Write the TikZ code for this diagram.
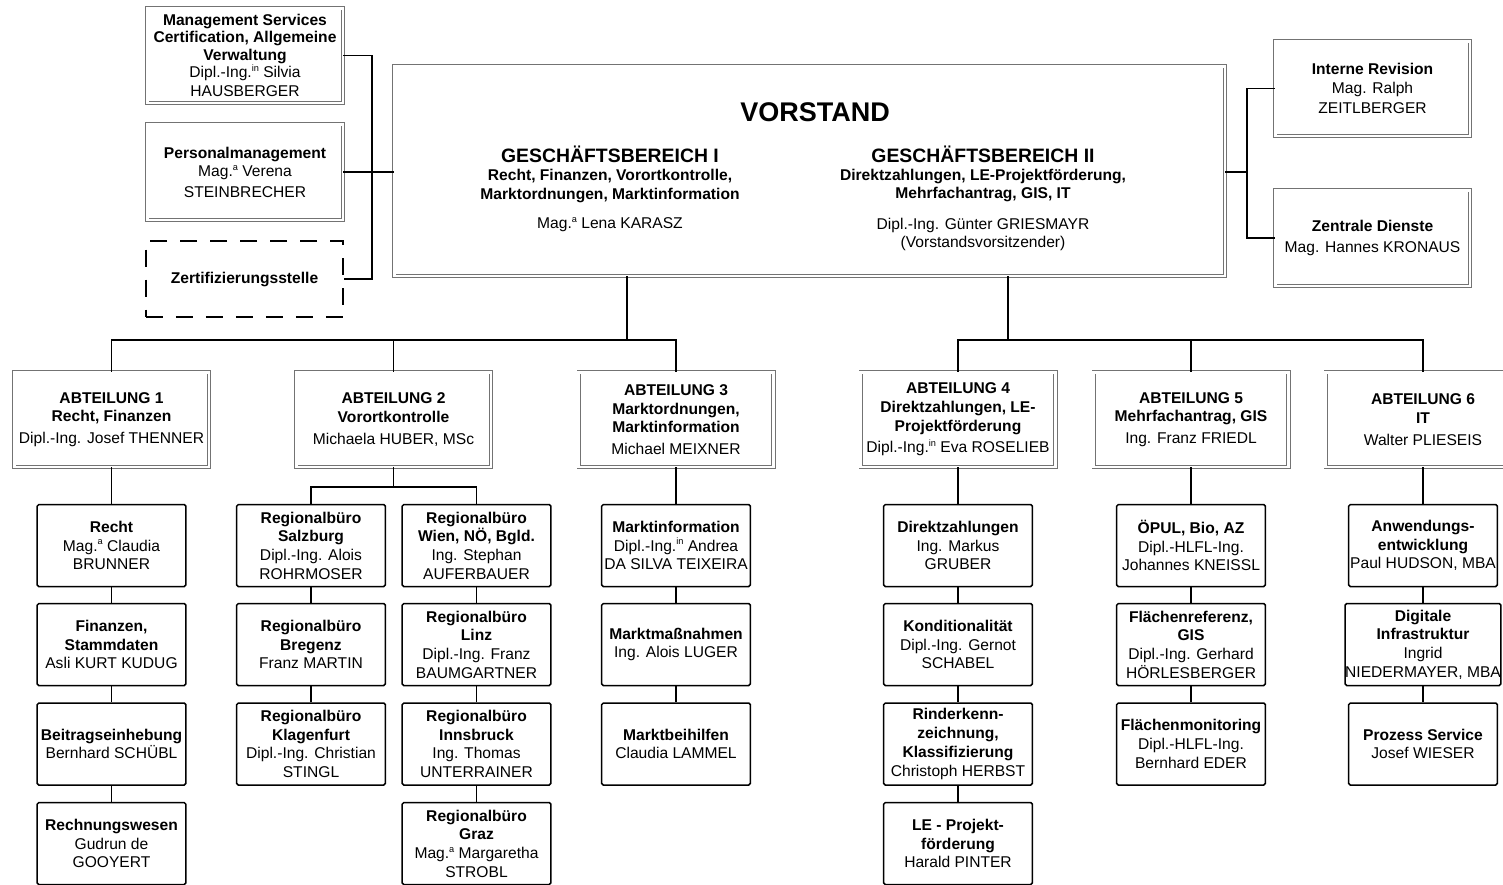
\documentclass[tikz,border=0pt]{standalone}
\usepackage{fontspec}
\setmainfont{Liberation Sans}
\newcommand\orgfont{\fontsize{7.8}{9.35}\selectfont}
\newcommand\supx[1]{\raisebox{0.75ex}{\fontsize{4.6}{5}\selectfont #1}}
\begin{document}
\begin{tikzpicture}[x=0.5pt,y=-0.5pt,
  dbl/.style={draw=black!55, line width=0.45pt, double=white, double distance=1.3pt,
    inner sep=0pt, align=center, font=\orgfont},
  abt/.style={dbl, minimum width=97.3pt, minimum height=47.3pt},
  sbox/.style={draw=black, line width=0.75pt, rounded corners=0.8pt, minimum width=74.3pt,
    minimum height=41pt, inner sep=0pt, align=center, font=\orgfont},
  dashbox/.style={draw=black, line width=0.75pt, dash pattern=on 8.5pt off 6.5pt,
    minimum width=98.7pt, minimum height=38.2pt, inner sep=0pt, align=center, font=\orgfont},
  conn/.style={draw=black, line width=0.6pt},
  txt/.style={inner sep=0pt, align=center, font=\orgfont}
]
\useasboundingbox (0,0) rectangle (1503,884);
\clip (0,0) rectangle (1503,884);

% ---------- top left staff units ----------
\node[dbl, minimum width=97.8pt, minimum height=47.3pt, font=\fontsize{7.8}{8.7}\selectfont] (mgmt) at (245,55.5)
  {\textbf{Management Services}\\\textbf{Certification, Allgemeine}\\\textbf{Verwaltung}\\Dipl.-Ing.\supx{in} Silvia\\[1pt]HAUSBERGER};
\node[dbl, minimum width=97.8pt, minimum height=47.8pt] (pers) at (245,172)
  {\textbf{Personalmanagement}\\Mag.\supx{a} Verena\\[0.8pt]STEINBRECHER};
\node[dashbox] (zert) at (244.5,279) {\textbf{Zertifizierungsstelle}};

% ---------- Vorstand ----------
\node[dbl, minimum width=415.3pt, minimum height=104.8pt] (vorstand) at (809.5,171) {};
\node[txt, font=\fontsize{13.5}{16}\selectfont\bfseries] (vtitle) at (815,112) {VORSTAND};
\node[txt, font=\fontsize{9.7}{12}\selectfont\bfseries] (gb1) at (610,154) {GESCHÄFTSBEREICH I};
\node[txt] (gb1sub) at (610,186) {\textbf{Recht, Finanzen, Vorortkontrolle,}\\\textbf{Marktordnungen, Marktinformation}};
\node[txt] (gb1name) at (610,225) {Mag.\supx{a} Lena KARASZ};
\node[txt, font=\fontsize{9.7}{12}\selectfont\bfseries] (gb2) at (983,154) {GESCHÄFTSBEREICH II};
\node[txt] (gb2sub) at (983,185.5) {\textbf{Direktzahlungen, LE-Projektförderung,}\\\textbf{Mehrfachantrag, GIS, IT}};
\node[txt] (gb2name) at (983,234.5) {Dipl.-Ing. Günter GRIESMAYR\\(Vorstandsvorsitzender)};

% ---------- right staff units ----------
\node[dbl, minimum width=97.3pt, minimum height=47.3pt] (rev) at (1372.5,88.5)
  {\textbf{Interne Revision}\\Mag. Ralph\\[1pt]ZEITLBERGER};
\node[dbl, minimum width=97.3pt, minimum height=47.8pt] (zd) at (1372.5,238)
  {\textbf{Zentrale Dienste}\\[1.5pt]Mag. Hannes KRONAUS};

% ---------- Abteilungen ----------
\node[abt] (a1) at (111.5,419.5) {\textbf{ABTEILUNG 1}\\\textbf{Recht, Finanzen}\\[1.5pt]Dipl.-Ing. Josef THENNER};
\node[abt] (a2) at (393.5,419.5) {\textbf{ABTEILUNG 2}\\\textbf{Vorortkontrolle}\\[1.5pt]Michaela HUBER, MSc};
\node[abt] (a3) at (676,419.5) {\textbf{ABTEILUNG 3}\\\textbf{Marktordnungen,}\\\textbf{Marktinformation}\\[1.5pt]Michael MEIXNER};
\node[abt] (a4) at (958,419.5) {\textbf{ABTEILUNG 4}\\\textbf{Direktzahlungen, LE-}\\\textbf{Projektförderung}\\[1.5pt]Dipl.-Ing.\supx{in} Eva ROSELIEB};
\node[abt] (a5) at (1191,419.5) {\textbf{ABTEILUNG 5}\\\textbf{Mehrfachantrag, GIS}\\[1.5pt]Ing. Franz FRIEDL};
\node[abt] (a6) at (1423,419.5) {\textbf{ABTEILUNG 6}\\\textbf{IT}\\[1.5pt]Walter PLIESEIS};

% ---------- column 1 ----------
\node[sbox] (c1r1) at (111.5,545.5) {\textbf{Recht}\\Mag.\supx{a} Claudia\\BRUNNER};
\node[sbox] (c1r2) at (111.5,644.5) {\textbf{Finanzen,}\\\textbf{Stammdaten}\\Asli KURT KUDUG};
\node[sbox] (c1r3) at (111.5,744) {\textbf{Beitragseinhebung}\\Bernhard SCHÜBL};
\node[sbox] (c1r4) at (111.5,843.5) {\textbf{Rechnungswesen}\\Gudrun de\\GOOYERT};

% ---------- column 2a ----------
\node[sbox] (c2ar1) at (311,545.5) {\textbf{Regionalbüro}\\\textbf{Salzburg}\\Dipl.-Ing. Alois\\ROHRMOSER};
\node[sbox] (c2ar2) at (311,644.5) {\textbf{Regionalbüro}\\\textbf{Bregenz}\\Franz MARTIN};
\node[sbox] (c2ar3) at (311,744) {\textbf{Regionalbüro}\\\textbf{Klagenfurt}\\Dipl.-Ing. Christian\\STINGL};

% ---------- column 2b ----------
\node[sbox] (c2br1) at (476.5,545.5) {\textbf{Regionalbüro}\\\textbf{Wien, NÖ, Bgld.}\\Ing. Stephan\\AUFERBAUER};
\node[sbox] (c2br2) at (476.5,644.5) {\textbf{Regionalbüro}\\\textbf{Linz}\\Dipl.-Ing. Franz\\BAUMGARTNER};
\node[sbox] (c2br3) at (476.5,744) {\textbf{Regionalbüro}\\\textbf{Innsbruck}\\Ing. Thomas\\UNTERRAINER};
\node[sbox] (c2br4) at (476.5,843.5) {\textbf{Regionalbüro}\\\textbf{Graz}\\Mag.\supx{a} Margaretha\\STROBL};

% ---------- column 3 ----------
\node[sbox] (c3r1) at (676,545.5) {\textbf{Marktinformation}\\Dipl.-Ing.\supx{in} Andrea\\DA SILVA TEIXEIRA};
\node[sbox] (c3r2) at (676,644.5) {\textbf{Marktmaßnahmen}\\Ing. Alois LUGER};
\node[sbox] (c3r3) at (676,744) {\textbf{Marktbeihilfen}\\Claudia LAMMEL};

% ---------- column 4 ----------
\node[sbox] (c4r1) at (958,545.5) {\textbf{Direktzahlungen}\\Ing. Markus\\GRUBER};
\node[sbox] (c4r2) at (958,644.5) {\textbf{Konditionalität}\\Dipl.-Ing. Gernot\\SCHABEL};
\node[sbox] (c4r3) at (958,744) {\textbf{Rinderkenn-}\\\textbf{zeichnung,}\\\textbf{Klassifizierung}\\Christoph HERBST};
\node[sbox] (c4r4) at (958,843.5) {\textbf{LE - Projekt-}\\\textbf{förderung}\\Harald PINTER};

% ---------- column 5 ----------
\node[sbox] (c5r1) at (1191,545.5) {\textbf{ÖPUL, Bio, AZ}\\Dipl.-HLFL-Ing.\\Johannes KNEISSL};
\node[sbox] (c5r2) at (1191,644.5) {\textbf{Flächenreferenz,}\\\textbf{GIS}\\Dipl.-Ing. Gerhard\\HÖRLESBERGER};
\node[sbox] (c5r3) at (1191,744) {\textbf{Flächenmonitoring}\\Dipl.-HLFL-Ing.\\Bernhard EDER};

% ---------- column 6 ----------
\node[sbox] (c6r1) at (1423,545.5) {\textbf{Anwendungs-}\\\textbf{entwicklung}\\Paul HUDSON, MBA};
\node[sbox] (c6r2) at (1423,644.5) {\textbf{Digitale}\\\textbf{Infrastruktur}\\Ingrid\\NIEDERMAYER, MBA};
\node[sbox] (c6r3) at (1423,744) {\textbf{Prozess Service}\\Josef WIESER};

% ---------- connectors ----------
\coordinate (lbus) at (372,172);
\coordinate (rbus) at (1247,172);
\coordinate (busL) at (627,340);
\coordinate (busR) at (1008,340);
\coordinate (a2j) at (393.5,487);

\draw[conn] (mgmt.east) -| (lbus) |- (zert.east);
\draw[conn] (pers.east) -- (pers.east -| vorstand.west);
\draw[conn] (rbus -| vorstand.east) -- (rbus);
\draw[conn] (rev.west) -| (rbus) |- (zd.west);

\draw[conn] (busL |- vorstand.south) -- (busL);
\draw[conn] (a1.north) |- (a3.north |- busL) -- (a3.north);
\draw[conn] (a2.north) -- (a2.north |- busL);
\draw[conn] (busR |- vorstand.south) -- (busR);
\draw[conn] (a4.north) |- (a6.north |- busR) -- (a6.north);
\draw[conn] (a5.north) -- (a5.north |- busR);

\draw[conn] (a1.south) -- (c1r1.north);
\draw[conn] (c1r1.south) -- (c1r2.north);
\draw[conn] (c1r2.south) -- (c1r3.north);
\draw[conn] (c1r3.south) -- (c1r4.north);

\draw[conn] (a2.south) -- (a2j);
\draw[conn] (c2ar1.north) |- (a2j) -| (c2br1.north);
\draw[conn] (c2ar1.south) -- (c2ar2.north);
\draw[conn] (c2ar2.south) -- (c2ar3.north);
\draw[conn] (c2br1.south) -- (c2br2.north);
\draw[conn] (c2br2.south) -- (c2br3.north);
\draw[conn] (c2br3.south) -- (c2br4.north);

\draw[conn] (a3.south) -- (c3r1.north);
\draw[conn] (c3r1.south) -- (c3r2.north);
\draw[conn] (c3r2.south) -- (c3r3.north);

\draw[conn] (a4.south) -- (c4r1.north);
\draw[conn] (c4r1.south) -- (c4r2.north);
\draw[conn] (c4r2.south) -- (c4r3.north);
\draw[conn] (c4r3.south) -- (c4r4.north);

\draw[conn] (a5.south) -- (c5r1.north);
\draw[conn] (c5r1.south) -- (c5r2.north);
\draw[conn] (c5r2.south) -- (c5r3.north);

\draw[conn] (a6.south) -- (c6r1.north);
\draw[conn] (c6r1.south) -- (c6r2.north);
\draw[conn] (c6r2.south) -- (c6r3.north);
\end{tikzpicture}
\end{document}
